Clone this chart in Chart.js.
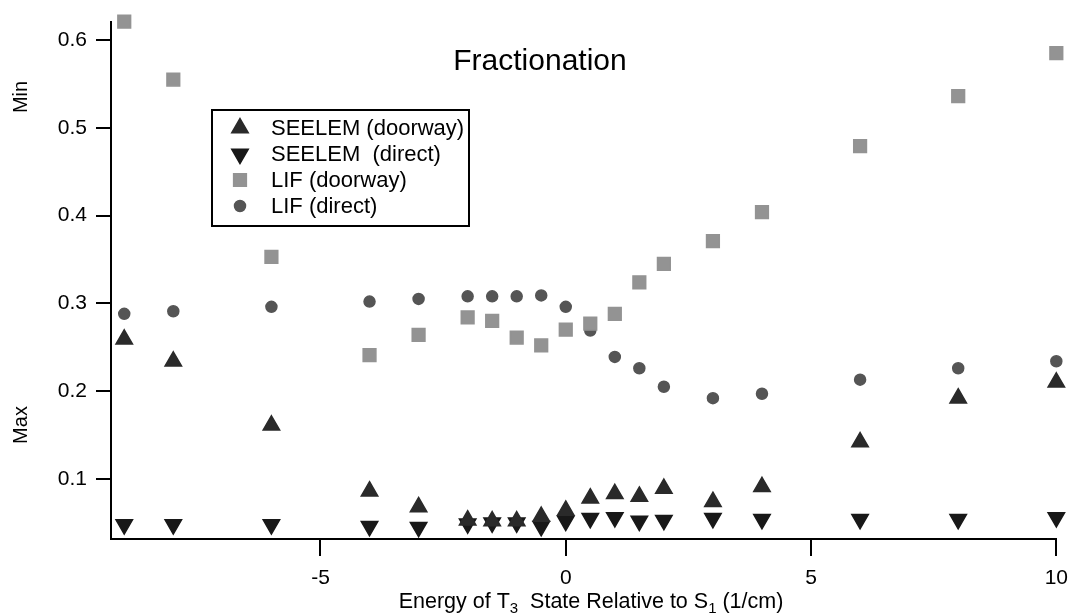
<!DOCTYPE html>
<html>
<head>
<meta charset="utf-8">
<script src="https://cdn.jsdelivr.net/npm/chart.js@4.4.0/dist/chart.umd.min.js"></script>
<style>
  html, body { margin: 0; padding: 0; background: #fff; }
  #wrap { width: 1078px; height: 613px; }
</style>
</head>
<body>
<div id="wrap"><canvas id="fracChart" width="1078" height="613"></canvas></div>
<script>
// energy of T3 relative to S1 (1/cm)
const energies = [-9, -8, -6, -4, -3, -2, -1.5, -1, -0.5, 0, 0.5, 1, 1.5, 2, 3, 4, 6, 8, 10];

const seelemDoorway = [0.259, 0.234, 0.161, 0.086, 0.068, 0.053, 0.052, 0.052, 0.057, 0.064, 0.078, 0.083, 0.080, 0.089, 0.074, 0.091, 0.142, 0.192, 0.210];
const seelemDirect  = [0.048, 0.048, 0.048, 0.046, 0.045, 0.049, 0.050, 0.050, 0.046, 0.052, 0.055, 0.056, 0.052, 0.053, 0.055, 0.054, 0.054, 0.054, 0.056];
const lifDoorway    = [0.621, 0.555, 0.353, 0.241, 0.264, 0.284, 0.280, 0.261, 0.252, 0.270, 0.277, 0.288, 0.324, 0.345, 0.371, 0.404, 0.479, 0.536, 0.585];
const lifDirect     = [0.288, 0.291, 0.296, 0.302, 0.305, 0.308, 0.308, 0.308, 0.309, 0.296, 0.269, 0.239, 0.226, 0.205, 0.192, 0.197, 0.213, 0.226, 0.234];

const seriesLabels = ['SEELEM (doorway)', 'SEELEM  (direct)', 'LIF (doorway)', 'LIF (direct)'];
const xTicks = [-5, 0, 5, 10];
const yTicks = [0.1, 0.2, 0.3, 0.4, 0.5, 0.6];

const FONT = "'Liberation Sans', Arial, Helvetica, sans-serif";

function toPoints(ys) {
    return energies.map((x, i) => ({ x: x, y: ys[i] }));
}

function series(label, ys, color, style, radius, rotation) {
    return {
        label: label,
        data: toPoints(ys),
        pointStyle: style,
        pointRadius: radius,
        pointRotation: rotation,
        pointBackgroundColor: color,
        pointBorderColor: color,
        pointBorderWidth: 1.5,
        clip: false
    };
}

// title, side labels, x title and boxed legend drawn on top
const overlay = {
    id: 'overlay',
    afterDraw(chart) {
        const ctx = chart.ctx;
        ctx.save();
        ctx.fillStyle = '#000';

        // title
        ctx.font = '30px ' + FONT;
        ctx.textAlign = 'center';
        ctx.textBaseline = 'alphabetic';
        ctx.fillText('Fractionation', 540, 70);

        // Min / Max labels
        ctx.font = '20px ' + FONT;
        [['Min', 97], ['Max', 425]].forEach(([txt, cy]) => {
            ctx.save();
            ctx.translate(27, cy);
            ctx.rotate(-Math.PI / 2);
            ctx.fillText(txt, 0, 0);
            ctx.restore();
        });

        // x axis title with subscripts
        const parts = [['Energy of T', 21.5, 0], ['3', 15, 5], ['  State Relative to S', 21.5, 0], ['1', 15, 5], [' (1/cm)', 21.5, 0]];
        let total = 0;
        parts.forEach(p => { ctx.font = p[1] + 'px ' + FONT; total += ctx.measureText(p[0]).width; });
        let x = 591 - total / 2;
        ctx.textAlign = 'left';
        parts.forEach(p => {
            ctx.font = p[1] + 'px ' + FONT;
            ctx.fillText(p[0], x, 608 + p[2]);
            x += ctx.measureText(p[0]).width;
        });

        // legend
        ctx.lineWidth = 2;
        ctx.strokeStyle = '#000';
        ctx.strokeRect(212, 110, 257, 116);
        ctx.font = '22px ' + FONT;
        ctx.textBaseline = 'middle';
        chart.data.datasets.forEach((ds, i) => {
            const y = 128 + i * 26;
            ctx.fillStyle = ds.pointBackgroundColor;
            ctx.strokeStyle = ds.pointBorderColor;
            ctx.lineWidth = ds.pointBorderWidth;
            Chart.helpers.drawPoint(ctx, {
                pointStyle: ds.pointStyle,
                radius: ds.pointRadius,
                rotation: ds.pointRotation,
                borderWidth: ds.pointBorderWidth
            }, 240, y);
            ctx.fillStyle = '#000';
            ctx.fillText(ds.label, 271, y + 1);
        });
        ctx.restore();
    }
};

new Chart(document.getElementById('fracChart'), {
    type: 'scatter',
    data: {
        datasets: [
            series(seriesLabels[0], seelemDoorway, '#2a2a2a', 'triangle', 9.5, 0),
            series(seriesLabels[1], seelemDirect, '#181818', 'triangle', 9.5, 180),
            series(seriesLabels[2], lifDoorway, '#939393', 'rect', 9, 0),
            series(seriesLabels[3], lifDirect, '#555555', 'circle', 5.5, 0)
        ]
    },
    options: {
        responsive: false,
        animation: false,
        layout: { padding: { top: 20, right: 16, left: 0, bottom: 0 } },
        plugins: {
            legend: { display: false },
            tooltip: { enabled: false }
        },
        scales: {
            x: {
                type: 'linear',
                min: -9.27,
                max: 10,
                afterFit(s) { s.height = 74; },
                afterBuildTicks(s) { s.ticks = xTicks.map(v => ({ value: v })); },
                grid: { drawOnChartArea: false, drawTicks: true, tickLength: 17, color: '#000', lineWidth: 2 },
                border: { display: true, color: '#000', width: 2 },
                ticks: { color: '#000', font: { family: FONT, size: 21 }, padding: 10, maxRotation: 0 }
            },
            y: {
                type: 'linear',
                min: 0.0315,
                max: 0.621,
                afterFit(s) { s.width = 111; },
                afterBuildTicks(s) { s.ticks = yTicks.map(v => ({ value: v })); },
                grid: { drawOnChartArea: false, drawTicks: true, tickLength: 15, color: '#000', lineWidth: 2 },
                border: { display: true, color: '#000', width: 2 },
                ticks: { color: '#000', font: { family: FONT, size: 21 }, padding: 9, callback: v => v.toFixed(1) }
            }
        }
    },
    plugins: [overlay]
});
</script>
</body>
</html>
